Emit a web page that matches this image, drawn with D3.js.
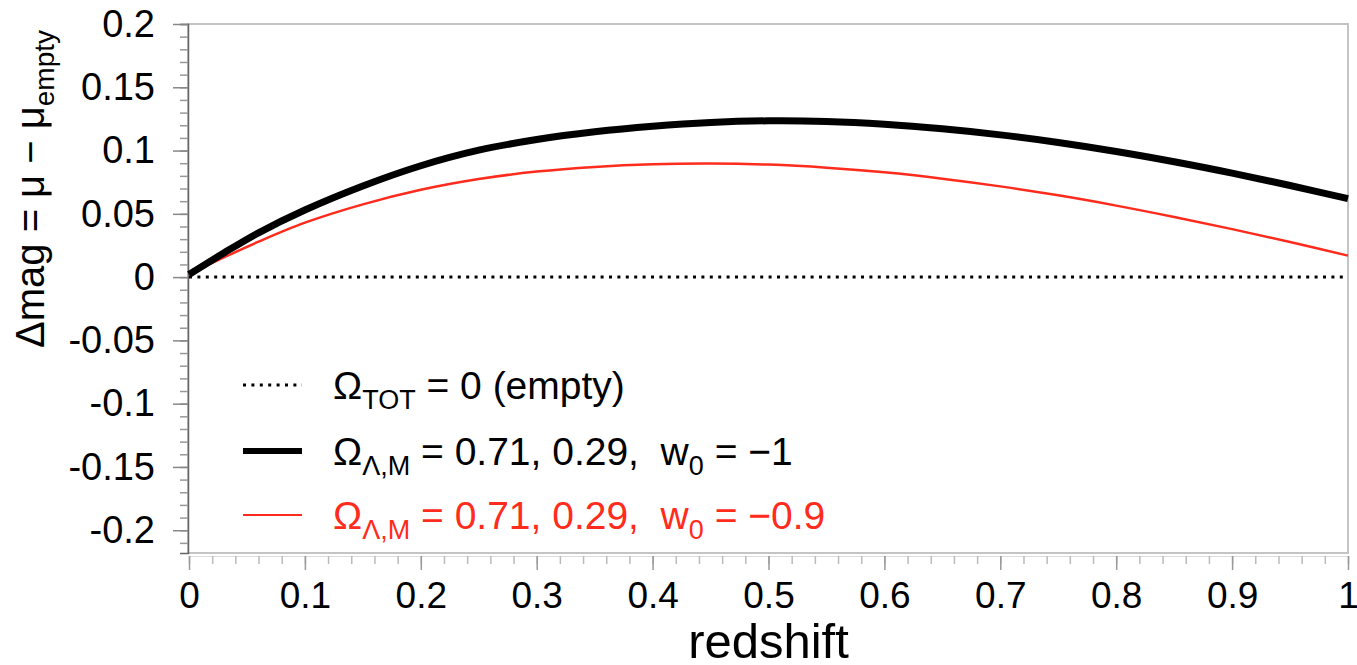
<!DOCTYPE html>
<html>
<head>
<meta charset="utf-8">
<script src="https://cdn.jsdelivr.net/npm/d3@7"></script>
<style>
  body { margin: 0; background: #fff; }
  text { font-family: "Liberation Sans", Arial, Helvetica, sans-serif; }
</style>
</head>
<body>
<div id="chart"></div>
<script>
// redshift samples
var redshift = [0, 0.03, 0.06, 0.1, 0.15, 0.2, 0.25, 0.3, 0.35, 0.4, 0.45, 0.5,
                0.55, 0.6, 0.65, 0.7, 0.75, 0.8, 0.85, 0.9, 0.95, 1.0];
// w0 = -1
var lcdm = [0.002, 0.019, 0.035, 0.053, 0.072, 0.088, 0.1003, 0.1087, 0.1148, 0.1192, 0.1222, 0.1235,
            0.1230, 0.1208, 0.1172, 0.1124, 0.1064, 0.0993, 0.0912, 0.0822, 0.0724, 0.062];
// w0 = -0.9
var wcdm = [0.002, 0.0155, 0.028, 0.043, 0.0575, 0.069, 0.0775, 0.0834, 0.0871, 0.0892, 0.0898, 0.0889,
            0.0865, 0.0828, 0.0778, 0.0717, 0.0646, 0.0565, 0.0475, 0.0379, 0.0277, 0.017];
// empty universe reference
var empty = [0, 0];
var emptyZ = [0, 1];

var xTicks = [0, 0.1, 0.2, 0.3, 0.4, 0.5, 0.6, 0.7, 0.8, 0.9, 1];
var yTicks = [0.2, 0.15, 0.1, 0.05, 0, -0.05, -0.1, -0.15, -0.2];

var width = 1357, height = 665;
var mLeft = 188, mRight = 1348, mTop = 24, mBottom = 553;

var svg = d3.select("#chart").append("svg")
    .attr("width", width)
    .attr("height", height);

var xscale = d3.scaleLinear().domain([0, 1]).range([mLeft + 1, mRight]);
var yscale = d3.scaleLinear().domain([-0.218, 0.2]).range([mBottom, mTop]);

// frame
svg.append("rect")
    .attr("x", mLeft).attr("y", mTop)
    .attr("width", mRight - mLeft).attr("height", mBottom - mTop)
    .attr("fill", "none")
    .attr("stroke", "#c4c4c4")
    .attr("stroke-width", 2);

// y axis: minor ticks every 0.01, major every 0.05
var yMinor = d3.range(-21, 21).map(function(i){ return i / 100; });
var yAxisMinor = d3.axisLeft(yscale).tickValues(yMinor).tickSize(8).tickFormat("");
svg.append("g")
    .attr("transform", "translate(" + mLeft + ",0)")
    .call(yAxisMinor)
    .call(function(g){
        g.select(".domain").attr("stroke", "#666").attr("stroke-width", 1.5);
        g.selectAll(".tick line").attr("stroke", "#999").attr("stroke-width", 1.5);
    });

var yAxis = d3.axisLeft(yscale).tickValues(yTicks).tickSize(15).tickPadding(18)
    .tickFormat(function(d){ return String(+d.toFixed(2)); });
svg.append("g")
    .attr("transform", "translate(" + mLeft + ",0)")
    .call(yAxis)
    .call(function(g){
        g.select(".domain").remove();
        g.selectAll(".tick line").attr("stroke", "#888").attr("stroke-width", 1.5);
        g.selectAll(".tick text")
            .attr("font-size", 38)
            .attr("fill", "#000")
            .attr("font-family", "Liberation Sans, Arial, sans-serif");
    });

// x axis: minor ticks every 0.02
var xMinor = d3.range(0, 51).map(function(i){ return i / 50; });
var xAxisMinor = d3.axisBottom(xscale).tickValues(xMinor).tickSize(8).tickFormat("");
svg.append("g")
    .attr("transform", "translate(0," + (mBottom + 3) + ")")
    .call(xAxisMinor)
    .call(function(g){
        g.select(".domain").attr("stroke", "#ddd").attr("stroke-width", 1);
        g.selectAll(".tick line").attr("stroke", "#bbb").attr("stroke-width", 1.5);
    });

var xAxis = d3.axisBottom(xscale).tickValues(xTicks).tickSize(14).tickPadding(12)
    .tickFormat(function(d){ return String(+d.toFixed(1)); });
svg.append("g")
    .attr("transform", "translate(0," + (mBottom + 3) + ")")
    .call(xAxis)
    .call(function(g){
        g.select(".domain").remove();
        g.selectAll(".tick line").attr("stroke", "#999").attr("stroke-width", 1.5);
        g.selectAll(".tick text")
            .attr("font-size", 37)
            .attr("fill", "#000")
            .attr("font-family", "Liberation Sans, Arial, sans-serif");
    });

// axis titles
svg.append("text")
    .attr("x", xscale(0.5))
    .attr("y", 658)
    .attr("text-anchor", "middle")
    .attr("font-size", 49)
    .text("redshift");

var ytitle = svg.append("text")
    .attr("transform", "translate(44,348) rotate(-90)")
    .attr("text-anchor", "start")
    .attr("font-size", 40);
ytitle.append("tspan").text("\u0394mag = \u03bc \u2212 \u03bc");
ytitle.append("tspan").attr("font-size", 28).attr("dy", 10).text("empty");

// lines
var line = d3.line()
    .x(function(d){ return xscale(d[0]); })
    .y(function(d){ return yscale(d[1]); })
    .curve(d3.curveCatmullRom.alpha(0.5));

var plot = svg.append("g");

plot.append("path")
    .datum(d3.zip(emptyZ, empty))
    .attr("d", line)
    .attr("fill", "none")
    .attr("stroke", "#000")
    .attr("stroke-width", 3)
    .attr("stroke-dasharray", "3,5.4");

plot.append("path")
    .datum(d3.zip(redshift, wcdm))
    .attr("d", line)
    .attr("fill", "none")
    .attr("stroke", "#ff2b1c")
    .attr("stroke-width", 2.5);

plot.append("path")
    .datum(d3.zip(redshift, lcdm))
    .attr("d", line)
    .attr("fill", "none")
    .attr("stroke", "#000")
    .attr("stroke-width", 7);

// legend
var legendItems = [
    {y: 385, color: "#000", w: 3, dash: "3,5.4", main: "\u03a9", sub: "TOT", rest: " = 0 (empty)", sub2: null, rest2: null},
    {y: 451, color: "#000", w: 6, dash: null, main: "\u03a9", sub: "\u039b,M", rest: " = 0.71, 0.29, \u00a0w", sub2: "0", rest2: " = \u22121"},
    {y: 515, color: "#ff2b1c", w: 2, dash: null, main: "\u03a9", sub: "\u039b,M", rest: " = 0.71, 0.29, \u00a0w", sub2: "0", rest2: " = \u22120.9"}
];

var legend = svg.append("g");
legendItems.forEach(function(item){
    legend.append("line")
        .attr("x1", 243).attr("x2", 302)
        .attr("y1", item.y).attr("y2", item.y)
        .attr("stroke", item.color)
        .attr("stroke-width", item.w)
        .attr("stroke-dasharray", item.dash);
    var t = legend.append("text")
        .attr("x", 333)
        .attr("y", item.y + 14)
        .attr("font-size", 39)
        .attr("fill", item.color);
    t.append("tspan").text(item.main);
    t.append("tspan").attr("font-size", 27).attr("dy", 10).text(item.sub);
    t.append("tspan").attr("dy", -10).text(item.rest);
    if (item.sub2) {
        t.append("tspan").attr("font-size", 27).attr("dy", 10).text(item.sub2);
        t.append("tspan").attr("dy", -10).text(item.rest2);
    }
});
</script>
</body>
</html>
